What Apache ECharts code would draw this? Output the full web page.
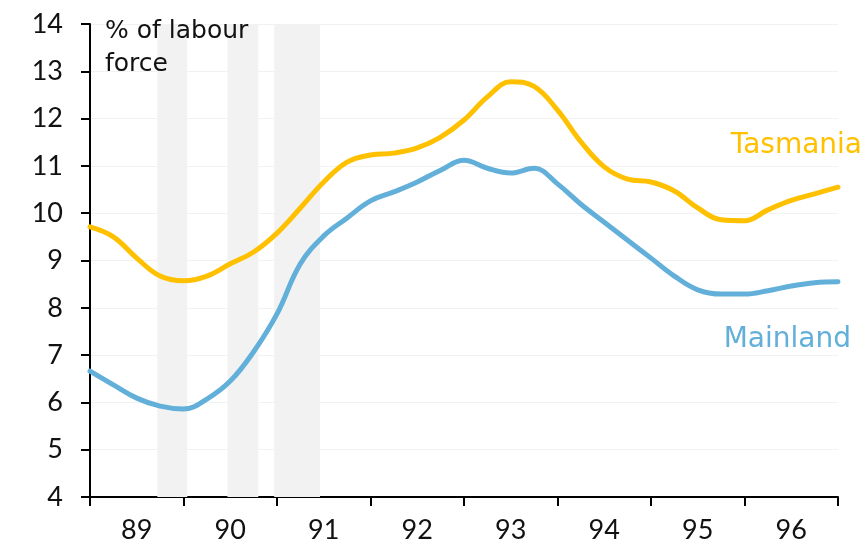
<!DOCTYPE html>
<html>
<head>
<meta charset="utf-8">
<script src="https://cdn.jsdelivr.net/npm/echarts@6/dist/echarts.min.js"></script>
<style>
  html, body { margin: 0; padding: 0; background: #fff; }
  #main { width: 866px; height: 550px; }
</style>
</head>
<body>
<div id="main"></div>
<script>
// year labels, one per band on the bottom axis
var years = ['89', '90', '91', '92', '93', '94', '95', '96'];

// quarter dates (decimal years) for the two series
var dates = [89, 89.25, 89.5, 89.75, 90, 90.25, 90.5, 90.75, 91, 91.25, 91.5, 91.75,
  92, 92.25, 92.5, 92.75, 93, 93.25, 93.5, 93.75, 94, 94.25, 94.5, 94.75,
  95, 95.25, 95.5, 95.75, 96, 96.25, 96.5, 96.75, 97];

// unemployment rate, % of labour force
var tasmania = [9.71, 9.50, 9.05, 8.67, 8.57, 8.67, 8.93, 9.18, 9.58, 10.11, 10.66, 11.08,
  11.23, 11.27, 11.38, 11.61, 11.97, 12.46, 12.78, 12.68, 12.18, 11.51, 10.98, 10.72,
  10.66, 10.47, 10.11, 9.86, 9.84, 10.07, 10.27, 10.41, 10.55];
var mainland = [6.66, 6.37, 6.09, 5.92, 5.86, 6.07, 6.45, 7.07, 7.87, 8.93, 9.52, 9.90,
  10.26, 10.45, 10.66, 10.91, 11.12, 10.95, 10.85, 10.95, 10.62, 10.19, 9.81, 9.43,
  9.05, 8.67, 8.38, 8.29, 8.29, 8.36, 8.46, 8.53, 8.55];

// shaded periods [start, end] in decimal years
var shaded = [[89.72, 90.04], [90.47, 90.80], [90.97, 91.46]];

var FONT = 'Lato';
var TEXT_FONT = 'DejaVu Sans';
var chart = echarts.init(document.getElementById('main'));

function pairs(vals) {
  return vals.map(function (v, i) { return [dates[i], v]; });
}

var option = {
  animation: false,
  textStyle: { fontFamily: FONT },
  grid: { left: 90, right: 28, top: 24, bottom: 53 },
  xAxis: [
    {
      type: 'category',
      data: years,
      boundaryGap: true,
      axisLine: { lineStyle: { color: '#000', width: 2 } },
      axisTick: { show: true, length: 9, lineStyle: { color: '#000', width: 2 } },
      axisLabel: { color: '#111', fontSize: 27, margin: 20, fontFamily: FONT },
      splitLine: { show: false }
    },
    {
      type: 'value',
      min: 89,
      max: 97,
      show: false
    }
  ],
  yAxis: {
    type: 'value',
    min: 4,
    max: 14,
    interval: 1,
    axisLine: { show: true, lineStyle: { color: '#000', width: 2 } },
    axisTick: { show: true, length: 9, lineStyle: { color: '#000', width: 2 } },
    axisLabel: { color: '#111', fontSize: 27, margin: 27, fontFamily: FONT },
    splitLine: { show: true, lineStyle: { color: '#f2f2f2', width: 1 } }
  },
  series: [
    {
      name: 'shade',
      type: 'line',
      xAxisIndex: 1,
      data: [],
      z: 1,
      markArea: {
        silent: true,
        itemStyle: { color: '#f2f2f2' },
        data: shaded.map(function (s) { return [{ xAxis: s[0] }, { xAxis: s[1] }]; })
      }
    },
    {
      name: 'Tasmania',
      type: 'line',
      xAxisIndex: 1,
      data: pairs(tasmania),
      smooth: 0.4,
      showSymbol: false,
      lineStyle: { color: '#FFC000', width: 5, cap: 'round' }
    },
    {
      name: 'Mainland',
      type: 'line',
      xAxisIndex: 1,
      data: pairs(mainland),
      smooth: 0.4,
      showSymbol: false,
      lineStyle: { color: '#62B0D9', width: 5, cap: 'round' }
    }
  ],
  graphic: [
    {
      type: 'text',
      left: 105,
      top: 15,
      z: 100,
      style: {
        text: '% of labour\nforce',
        font: '25px ' + TEXT_FONT,
        fill: '#111',
        lineHeight: 33
      }
    },
    {
      type: 'text',
      right: 4,
      top: 132,
      z: 100,
      style: { text: 'Tasmania', font: '28px ' + TEXT_FONT, fill: '#FFC000' }
    },
    {
      type: 'text',
      right: 15,
      top: 326,
      z: 100,
      style: { text: 'Mainland', font: '28px ' + TEXT_FONT, fill: '#62B0D9' }
    }
  ]
};

chart.setOption(option);
</script>
</body>
</html>
